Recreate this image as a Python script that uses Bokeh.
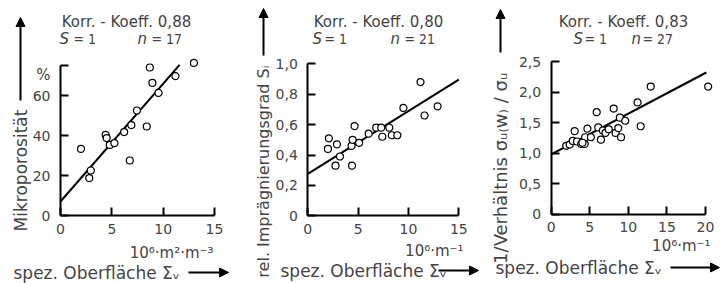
import math
from bokeh.plotting import figure
from bokeh.models import FixedTicker, Label, Arrow, NormalHead, Range1d, LinearAxis
from bokeh.embed import file_html
from bokeh.resources import INLINE

# ---------------- data ----------------
# Panel 1: Mikroporosität (%) vs spez. Oberfläche (10^6 m2/m3)
p1_x = [2.0, 2.8, 2.95, 4.4, 4.5, 4.8, 5.25, 6.2, 6.9, 6.75, 7.45, 8.4, 8.7, 8.95, 9.55, 11.2, 13.0]
p1_y = [33.3, 18.7, 22.5, 40.3, 38.7, 35.3, 36.2, 41.7, 45.2, 27.5, 52.5, 44.5, 74.0, 66.3, 61.3, 69.7, 76.3]
p1_fit_x = [0.0, 11.6]
p1_fit_y = [7.0, 75.3]
p1_xticks = [0, 5, 10, 15]
p1_yticks = [0, 20, 40, 60, 75]
p1_ylabels = ["0", "20", "40", "60", ""]

# Panel 2: rel. Imprägnierungsgrad vs spez. Oberfläche (10^6 m^-1)
p2_x = [2.0, 2.1, 2.9, 2.75, 3.2, 4.35, 4.45, 4.4, 4.65, 5.1, 6.05, 6.8, 7.3, 7.4, 8.1, 8.35, 8.9, 9.5, 11.2, 11.6, 12.9]
p2_y = [0.44, 0.51, 0.47, 0.33, 0.39, 0.46, 0.50, 0.33, 0.59, 0.48, 0.54, 0.58, 0.58, 0.52, 0.58, 0.53, 0.53, 0.71, 0.88, 0.66, 0.72]
p2_fit_x = [0.0, 15.0]
p2_fit_y = [0.276, 0.896]
p2_xticks = [0, 5, 10, 15]
p2_yticks = [0, 0.2, 0.4, 0.6, 0.8, 1.0]
p2_ylabels = ["0", "0,2", "0,4", "0,6", "0,8", "1,0"]

# Panel 3: 1/Verhältnis vs spez. Oberfläche (10^6 m^-1)
p3_x = [1.95, 2.4, 2.8, 3.05, 3.35, 3.9, 4.35, 4.4, 4.7, 5.15, 5.9, 6.1, 6.45, 6.7, 7.05, 7.45, 8.1,
        8.35, 8.7, 8.9, 9.05, 9.6, 11.2, 11.6, 12.9, 20.35, 4.05]
p3_y = [1.12, 1.14, 1.20, 1.36, 1.19, 1.15, 1.15, 1.26, 1.40, 1.26, 1.67, 1.42, 1.22, 1.37, 1.33, 1.39, 1.73,
        1.33, 1.41, 1.58, 1.26, 1.53, 1.83, 1.44, 2.09, 2.09, 1.17]
p3_fit_x = [0.0, 20.1]
p3_fit_y = [0.98, 2.32]
p3_xticks = [0, 5, 10, 15, 20]
p3_yticks = [0, 0.5, 1.0, 1.5, 2.0, 2.5]
p3_ylabels = ["0", "0,5", "1,0", "1,5", "2,0", "2,5"]

titles = ["Korr. - Koeff. 0,88", "Korr. - Koeff. 0,80", "Korr. - Koeff. 0,83"]
s_values = ["= 1", "= 1", "= 1"]
n_values = ["= 17", "= 21", "= 27"]
y_titles = ["Mikroporosität", "rel. Imprägnierungsgrad Sᵢ", "1/Verhältnis  σᵤ₍w₎ / σᵤ"]
x_units = ["10⁶·m²·m⁻³", "10⁶·m⁻¹", "10⁶·m⁻¹"]
x_title = "spez. Oberfläche Σᵥ"

W, H = 727, 283
FONT = "DejaVu Sans"
FONT_C = "DejaVu Sans Condensed"

p = figure(width=W, height=H, output_backend="svg", toolbar_location=None,
           x_range=Range1d(0, W), y_range=Range1d(H, 0),
           x_axis_type=None, y_axis_type=None, min_border=0)
p.outline_line_color = None


def xrange_for(d0, p0, d1, p1):
    k = (d1 - d0) / (p1 - p0)
    return Range1d(d0 - p0 * k, d0 + (W - p0) * k)


def yrange_for(d0, p0, d1, p1):
    k = (d1 - d0) / (p1 - p0)
    return Range1d(d0 + (H - p0) * k, d0 - p0 * k)


# page-pixel placement of each panel's data frame: (x0px, x1px, xmax, y0px, y1px, ymax)
geo = [
    (60.0, 214.0, 15, 215.0, 65.0, 75),
    (307.3, 458.3, 15, 215.3, 63.3, 1.0),
    (550.7, 705.0, 20, 213.7, 61.0, 2.5),
]
panels = [
    (p1_x, p1_y, p1_fit_x, p1_fit_y, p1_xticks, p1_yticks, p1_ylabels),
    (p2_x, p2_y, p2_fit_x, p2_fit_y, p2_xticks, p2_yticks, p2_ylabels),
    (p3_x, p3_y, p3_fit_x, p3_fit_y, p3_xticks, p3_yticks, p3_ylabels),
]

for i, ((x0, x1, xm, y0, y1, ym), (xs, ys, fx, fy, xt, yt, yl)) in enumerate(zip(geo, panels)):
    xn, yn = f"x{i}", f"y{i}"
    p.extra_x_ranges[xn] = xrange_for(0, x0, xm, x1)
    p.extra_y_ranges[yn] = yrange_for(0, y0, ym, y1)
    for side in ("below", "left"):
        ax = LinearAxis(x_range_name=xn, y_range_name=yn, fixed_location=0,
                        ticker=FixedTicker(ticks=xt if side == "below" else yt),
                        bounds=(0, xm) if side == "below" else (0, ym))
        ax.axis_line_width = 2
        ax.major_tick_in = 8
        ax.major_tick_out = 0
        ax.major_tick_line_width = 2
        ax.minor_tick_in = 0
        ax.minor_tick_out = 0
        ax.major_label_text_font = FONT
        ax.major_label_text_font_size = "14px"
        if side == "below":
            ax.major_label_standoff = 8
            ax.major_label_overrides = {t: str(t) for t in xt}
        else:
            ax.major_label_standoff = 10
            ax.major_label_overrides = dict(zip(yt, yl))
        p.add_layout(ax, side)
    p.line(fx, fy, line_color="black", line_width=2.0, x_range_name=xn, y_range_name=yn)
    p.scatter(xs, ys, marker="circle", size=7, fill_color="white", line_color="black",
              line_width=1.2, x_range_name=xn, y_range_name=yn)


def lab(text, x, y, align="left", angle=0.0, size="15px", font=FONT, style="normal"):
    p.add_layout(Label(x=x, y=y, text=text, text_font=font, text_font_size=size,
                       text_align=align, text_baseline="middle", angle=angle,
                       text_font_style=style))


def arrow(xa, ya, xb, yb):
    p.add_layout(Arrow(end=NormalHead(size=9),
                       x_start=xa, y_start=ya, x_end=xb, y_end=yb, line_width=2))


# texts: (title_cx, S_left, S_eq_left, n_left, n_eq_left, yarrow_x, yarrow_bot, yarrow_tip,
#         ytitle_cy, ytitle_size, unit_right, unit_y, xtitle_left, xtitle_y, xarrow_x0, xarrow_x1)
tx = [
    (126, 59, 73, 137, 151, 20, 100, 17, 170, "17px", 213, 252, 13, 272, 188, 228),
    (378, 312, 324, 390, 404, 263, 55, 8, 171, "16px", 463, 250, 280, 270, 438, 478),
    (623, 573, 584, 631, 642, 500, 52, 9, 165, "18px", 710, 245, 495, 267, 670, 719),
]
for i, t in enumerate(tx):
    (tcx, sl, sel, nl, nel, yax, yab, yat, ytcy, yts, ur, uy, xtl, xty, xa0, xa1) = t
    lab(titles[i], tcx, 21, align="center", size="15px")
    lab("S", sl, 38, size="15px", style="italic")
    lab(s_values[i], sel, 38, size="14px", font=FONT_C)
    lab("n", nl, 38, size="15px", style="italic")
    lab(n_values[i], nel, 38, size="14px", font=FONT_C)
    arrow(yax, yab, yax, yat)
    lab(y_titles[i], yax, ytcy, align="center", angle=math.pi / 2, size=yts)
    lab(x_units[i], ur, uy, align="right", size="15px")
    lab(x_title, xtl, xty, size="17px")
    arrow(xa0, xty, xa1, xty)

lab("%", 43, 74, align="center", size="15px")

open("out.html", "w").write(file_html(p, INLINE))
